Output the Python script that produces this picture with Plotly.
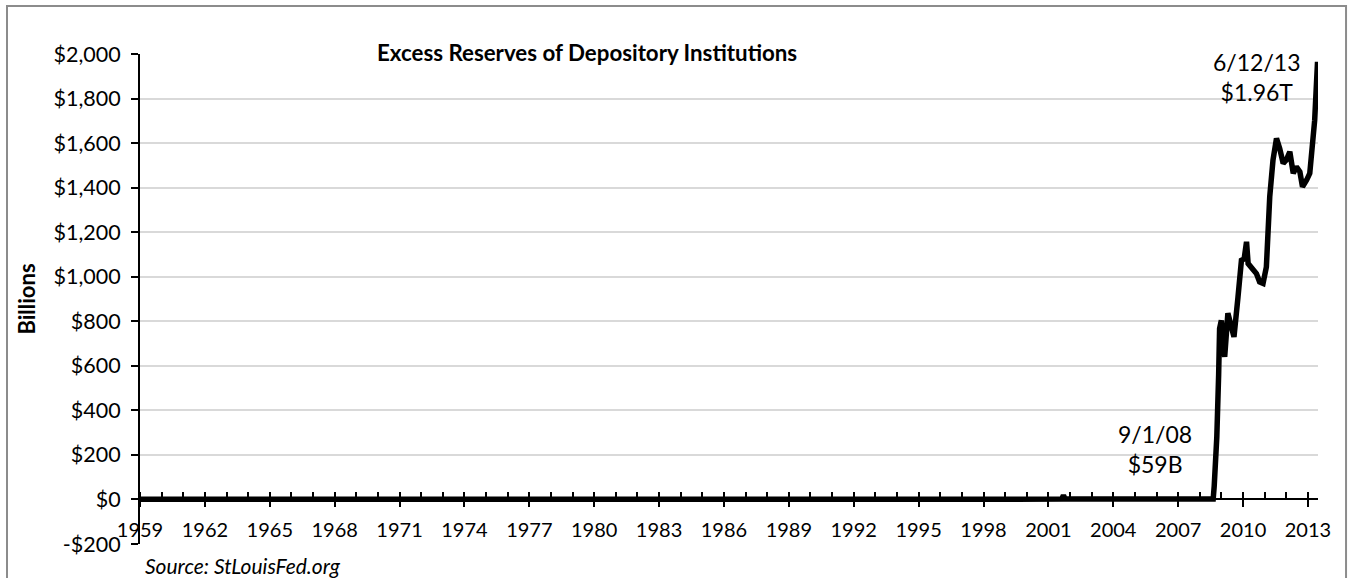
import plotly.graph_objects as go

# ---- data (billions of dollars) ----
dates = [
    "1959-01-01", "1962-01-01", "1965-01-01", "1968-01-01", "1971-01-01",
    "1974-01-01", "1977-01-01", "1980-01-01", "1983-01-01", "1986-01-01",
    "1989-01-01", "1992-01-01", "1995-01-01", "1998-01-01", "2001-08-15",
    "2001-09-12", "2001-10-10", "2004-01-01", "2007-01-01", "2008-08-15",
    "2008-09-01", "2008-10-15", "2008-11-15", "2008-12-01", "2008-12-31",
    "2009-02-25", "2009-04-20", "2009-05-25", "2009-08-01", "2009-10-08",
    "2009-12-05", "2010-01-20", "2010-03-01", "2010-03-28", "2010-06-20",
    "2010-08-15", "2010-10-08", "2010-12-05", "2011-01-30", "2011-03-28",
    "2011-05-22", "2011-07-20", "2011-09-12", "2011-11-10", "2012-01-01",
    "2012-03-01", "2012-04-28", "2012-06-20", "2012-08-18", "2012-10-01",
    "2012-12-10", "2013-02-01", "2013-04-25", "2013-06-12",
]
reserves = [
    0.5, 0.4, 0.4, 0.3, 0.3,
    0.3, 0.2, 0.5, 0.6, 1.0,
    1.0, 1.2, 1.1, 1.3, 1.5,
    19.0, 1.5, 1.7, 1.8, 2.0,
    59, 280, 560, 767, 804,
    640, 836, 804, 730, 909,
    1074, 1080, 1157, 1059, 1037,
    1014, 977, 970, 1044, 1359,
    1524, 1621, 1576, 1509, 1524,
    1561, 1464, 1494, 1471, 1404,
    1434, 1464, 1703, 1965,
]

y_tick_vals = [-200, 0, 200, 400, 600, 800, 1000, 1200, 1400, 1600, 1800, 2000]
y_tick_text = ["-$200", "$0", "$200", "$400", "$600", "$800", "$1,000",
               "$1,200", "$1,400", "$1,600", "$1,800", "$2,000"]

title_text = "Excess Reserves of Depository Institutions"
note_2008 = "9/1/08<br>$59B"
note_2013 = "6/12/13<br>$1.96T"
source_text = "Source: StLouisFed.org"

FONT = "Lato"
x_range = ["1959-01-01", "2013-06-20"]
y_range = [-200, 2000]
x_axis_pos = (0 - y_range[0]) / (y_range[1] - y_range[0])

fig = go.Figure()
fig.add_trace(go.Scatter(
    x=dates, y=reserves, mode="lines",
    line=dict(color="black", width=5.5),
    showlegend=False, hoverinfo="x+y",
))

fig.update_layout(
    width=1348, height=578,
    margin=dict(l=140, r=30, t=54, b=34),
    paper_bgcolor="white", plot_bgcolor="white",
    font=dict(family=FONT, size=20, color="black"),
    xaxis=dict(
        type="date", range=x_range,
        anchor="free", position=x_axis_pos,
        showline=True, linecolor="black", linewidth=2,
        ticks="outside", ticklen=7, tickwidth=2, tickcolor="black",
        tick0="1959-01-01", dtick="M36", tickformat="%Y",
        ticklabelstandoff=6,
        showgrid=False, zeroline=False,
        minor=dict(ticks="inside", ticklen=6, tickwidth=1.5,
                   tickcolor="black", dtick="M12", showgrid=False),
        tickfont=dict(family=FONT, size=20, color="black"),
    ),
    xaxis2=dict(
        type="date", range=x_range, overlaying="x",
        anchor="free", position=x_axis_pos,
        showline=False, ticks="inside", ticklen=6, tickwidth=2,
        tickcolor="black", tick0="1959-01-01", dtick="M36",
        showticklabels=False, showgrid=False, zeroline=False,
    ),
    yaxis=dict(
        range=y_range, tickvals=y_tick_vals, ticktext=y_tick_text,
        showline=True, linecolor="black", linewidth=2,
        ticks="outside", ticklen=7, tickwidth=2, tickcolor="black",
        ticklabelstandoff=6,
        showgrid=True, gridcolor="#d9d9d9", gridwidth=1.5,
        zeroline=False,
        tickfont=dict(family=FONT, size=21.5, color="black"),
        title=dict(text="<b>Billions</b>", standoff=12,
                   font=dict(family=FONT, size=22, color="black")),
    ),
    shapes=[dict(
        type="rect", xref="paper", yref="paper",
        x0=-0.1129, x1=1.0238, y0=-0.095, y1=1.098,
        line=dict(color="#8c8c8c", width=2), layer="below",
    )],
    annotations=[
        dict(text="<b>%s</b>" % title_text, xref="paper", yref="paper",
             x=0.3795, y=1.004, xanchor="center", yanchor="middle",
             showarrow=False, bgcolor="white", borderpad=1,
             font=dict(family=FONT, size=22.3, color="black")),
        dict(text=note_2008, xref="x", yref="y",
             x="2005-12-10", y=225, xanchor="center", yanchor="middle",
             showarrow=False, font=dict(family=FONT, size=23, color="black")),
        dict(text=note_2013, xref="x", yref="y",
             x="2010-08-20", y=1897, xanchor="center", yanchor="middle",
             showarrow=False, font=dict(family=FONT, size=23, color="black")),
        dict(text="<i>%s</i>" % source_text, xref="paper", yref="paper",
             x=0.0025, y=-0.044, xanchor="left", yanchor="middle",
             showarrow=False, font=dict(family=FONT, size=21, color="black")),
    ],
)

fig.write_html(
    "out.html",
    config={"displayModeBar": False},
    post_script="document.body.style.margin='0';document.body.style.overflow='hidden';",
)
